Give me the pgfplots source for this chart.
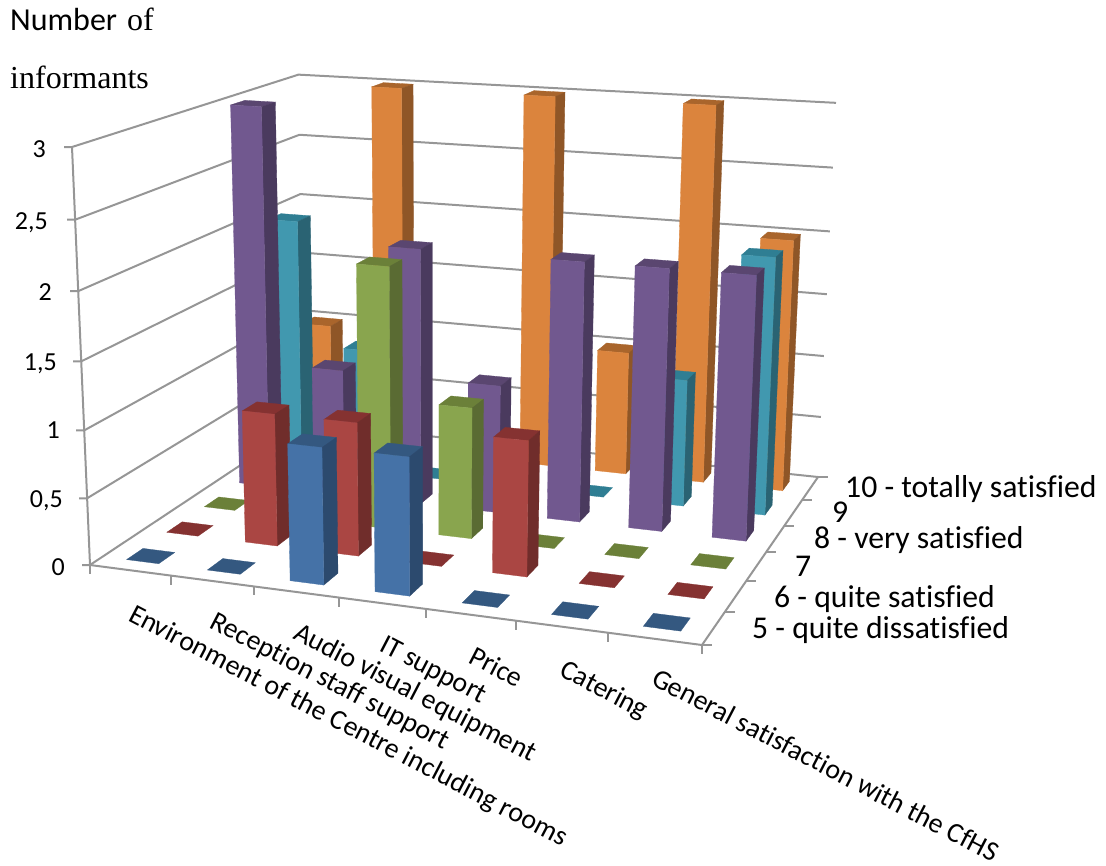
\documentclass[border=0pt]{standalone}
\usepackage{fontspec}
\usepackage{pgfplots}
\usepackage{pgfplotstable}
\pgfplotsset{compat=1.18}
\setmainfont{Liberation Serif}
\newfontfamily\calibri{Carlito}[Ligatures=NoCommon]

% respondents per aspect (rows) and per rating (columns)
\pgfplotstableread{
aspect q5 q6 q7 q8 q9 q10
1 0 0 0 3 2 1
2 0 1 0 1 1 3
3 1 1 2 2 0 0
4 1 0 1 1 0 3
5 0 1 0 2 0 1
6 0 0 0 2 1 3
7 0 0 0 2 2 2
}\ratings

% faces of the bars, one colour triple per rating
\definecolor{frontA}{HTML}{4572A7}\definecolor{sideA}{HTML}{2C4A6E}\definecolor{topA}{HTML}{345880}
\definecolor{frontB}{HTML}{AA4643}\definecolor{sideB}{HTML}{702D2B}\definecolor{topB}{HTML}{853231}
\definecolor{frontC}{HTML}{89A54E}\definecolor{sideC}{HTML}{5A6B33}\definecolor{topC}{HTML}{6B8039}
\definecolor{frontD}{HTML}{71588F}\definecolor{sideD}{HTML}{4A3A5E}\definecolor{topD}{HTML}{5A4670}
\definecolor{frontE}{HTML}{4198AF}\definecolor{sideE}{HTML}{2A6373}\definecolor{topE}{HTML}{2F7E93}
\definecolor{frontF}{HTML}{DB843D}\definecolor{sideF}{HTML}{8F5627}\definecolor{topF}{HTML}{A9652C}
\definecolor{wall}{HTML}{969696}

% perspective of the box: s along the aspects, t along the ratings, u up the values (all 0..1)
\edef\camOx{90}\edef\camOy{565}
\edef\camXx{702}\edef\camXy{645}
\edef\camYx{304}\edef\camYy{423}
\edef\camZx{72}\edef\camZy{147}
\edef\camG{-0.0872}\edef\camH{0.2103}\edef\camK{-0.05}
\newcommand\projx[3]{\fpeval{round((\camOx+(\camXx*(1+\camG)-\camOx)*(#1)+(\camYx*(1+\camH)-\camOx)*(#2)+(\camZx*(1+\camK)-\camOx)*(#3))/(1+\camG*(#1)+\camH*(#2)+\camK*(#3)),2)}}
\newcommand\projy[3]{\fpeval{round((\camOy+(\camXy*(1+\camG)-\camOy)*(#1)+(\camYy*(1+\camH)-\camOy)*(#2)+(\camZy*(1+\camK)-\camOy)*(#3))/(1+\camG*(#1)+\camH*(#2)+\camK*(#3)),2)}}
\newcommand\proj[3]{(\projx{#1}{#2}{#3},\projy{#1}{#2}{#3})}

\newcommand\hw{0.2}
\newcommand\hd{0.2}

% one bar: aspect index, rating index, value, colour suffix
\newcommand\drawbar[4]{%
  \edef\sa{\fpeval{(#1+0.5-\hw)/7}}\edef\sb{\fpeval{(#1+0.5+\hw)/7}}%
  \edef\ta{\fpeval{(#2+0.5-\hd)/6}}\edef\tb{\fpeval{(#2+0.5+\hd)/6}}%
  \edef\uu{\fpeval{(#3)/3}}%
  \edef\tmp{\noexpand\addplot[draw=top#4,fill=top#4,line width=0.3pt] coordinates
    {\proj{\sa}{\ta}{\uu} \proj{\sb}{\ta}{\uu} \proj{\sb}{\tb}{\uu} \proj{\sa}{\tb}{\uu}} -- cycle;}\tmp
  \ifdim#3pt>0pt
    \edef\tmp{\noexpand\addplot[draw=side#4,fill=side#4,line width=0.3pt] coordinates
      {\proj{\sb}{\ta}{0} \proj{\sb}{\tb}{0} \proj{\sb}{\tb}{\uu} \proj{\sb}{\ta}{\uu}} -- cycle;}\tmp
    \edef\tmp{\noexpand\addplot[draw=front#4,fill=front#4,line width=0.3pt] coordinates
      {\proj{\sa}{\ta}{0} \proj{\sb}{\ta}{0} \proj{\sb}{\ta}{\uu} \proj{\sa}{\ta}{\uu}} -- cycle;}\tmp
  \fi
}

\begin{document}
\begin{tikzpicture}
\path[use as bounding box] (0,0) rectangle (1106pt,865pt);
\begin{axis}[
  at={(0,0)}, anchor=south west,
  scale only axis, width=1106pt, height=865pt,
  xmin=0, xmax=1106, ymin=0, ymax=865, y dir=reverse,
  hide axis, clip=false,
]
% walls, floor edges and tick marks
\pgfplotsinvokeforeach{0,1,2,3,4,5,6}{
  \edef\tmp{\noexpand\addplot[wall,line width=2pt] coordinates
    {(\fpeval{\projx{0}{0}{#1/6}-8},\projy{0}{0}{#1/6}) \proj{0}{0}{#1/6} \proj{0}{1}{#1/6} \proj{1}{1}{#1/6}};}\tmp
}
\edef\tmp{\noexpand\addplot[wall,line width=2pt] coordinates
  {\proj{0}{0}{1} \proj{0}{0}{0} \proj{1}{0}{0} \proj{1}{1}{0}};}\tmp
\pgfplotsinvokeforeach{0,1,2,3,4,5,6,7}{
  \edef\tmp{\noexpand\addplot[wall,line width=2pt] coordinates
    {\proj{#1/7}{0}{0} (\projx{#1/7}{0}{0},\fpeval{\projy{#1/7}{0}{0}+9})};}\tmp
}
\pgfplotsinvokeforeach{0,1,2,3,4,5,6}{
  \edef\tmp{\noexpand\addplot[wall,line width=2pt] coordinates
    {\proj{1}{#1/6}{0} (\fpeval{\projx{1}{#1/6}{0}+10},\projy{1}{#1/6}{0})};}\tmp
}

% bars, from the back row to the front, left to right
\foreach \rating/\tone in {5/F,4/E,3/D,2/C,1/B,0/A}{
  \foreach \row in {0,...,6}{
    \pgfmathtruncatemacro\col{\rating+1}
    \pgfplotstablegetelem{\row}{[index]\col}\of\ratings
    \edef\val{\pgfplotsretval}
    \drawbar{\row}{\rating}{\val}{\tone}
  }
}

% value axis labels
\begin{scope}[every node/.style={inner sep=0pt,font=\calibri\fontsize{26}{30}\selectfont,anchor=base east}]
\node at (axis cs:46,157) {3};
\node at (axis cs:48,229) {2,5};
\node at (axis cs:52,300) {2};
\node at (axis cs:57,370) {1,5};
\node at (axis cs:60,438) {1};
\node at (axis cs:63,507) {0,5};
\node at (axis cs:65,575) {0};
\end{scope}

% rating labels
\begin{scope}[every node/.style={inner sep=0pt,font=\calibri\fontsize{31.7}{36}\selectfont,anchor=base west}]
\node at (axis cs:845,497) {10 - totally satisfied};
\node at (axis cs:832,522) {9};
\node at (axis cs:814,548) {8 - very satisfied};
\node at (axis cs:795,576) {7};
\node at (axis cs:774,607) {6 - quite satisfied};
\node at (axis cs:752,638) {5 - quite dissatisfied};
\end{scope}

% aspect labels
\begin{scope}[every node/.style={inner sep=0pt,font=\calibri\fontsize{28}{32}\selectfont,anchor=base west,rotate=-27.5}]
\node at (axis cs:127,620) {Environment of the Centre including rooms};
\node at (axis cs:208,627) {Reception staff support};
\node at (axis cs:292,638) {Audio visual equipment};
\node at (axis cs:378,650) {IT support};
\node at (axis cs:467,662) {Price};
\node at (axis cs:558,675) {Catering};
\node at (axis cs:650,684) {General satisfaction with the CfHS};
\end{scope}

% vertical axis caption
\node[inner sep=0pt,anchor=base west,font=\fontsize{32}{36}\selectfont] at (axis cs:10,30) {{\calibri\fontsize{32}{36}\selectfont Number}\hspace{10pt}of};
\node[inner sep=0pt,anchor=base west,font=\fontsize{32}{36}\selectfont] at (axis cs:10,88) {informants};
\end{axis}
\end{tikzpicture}
\end{document}
